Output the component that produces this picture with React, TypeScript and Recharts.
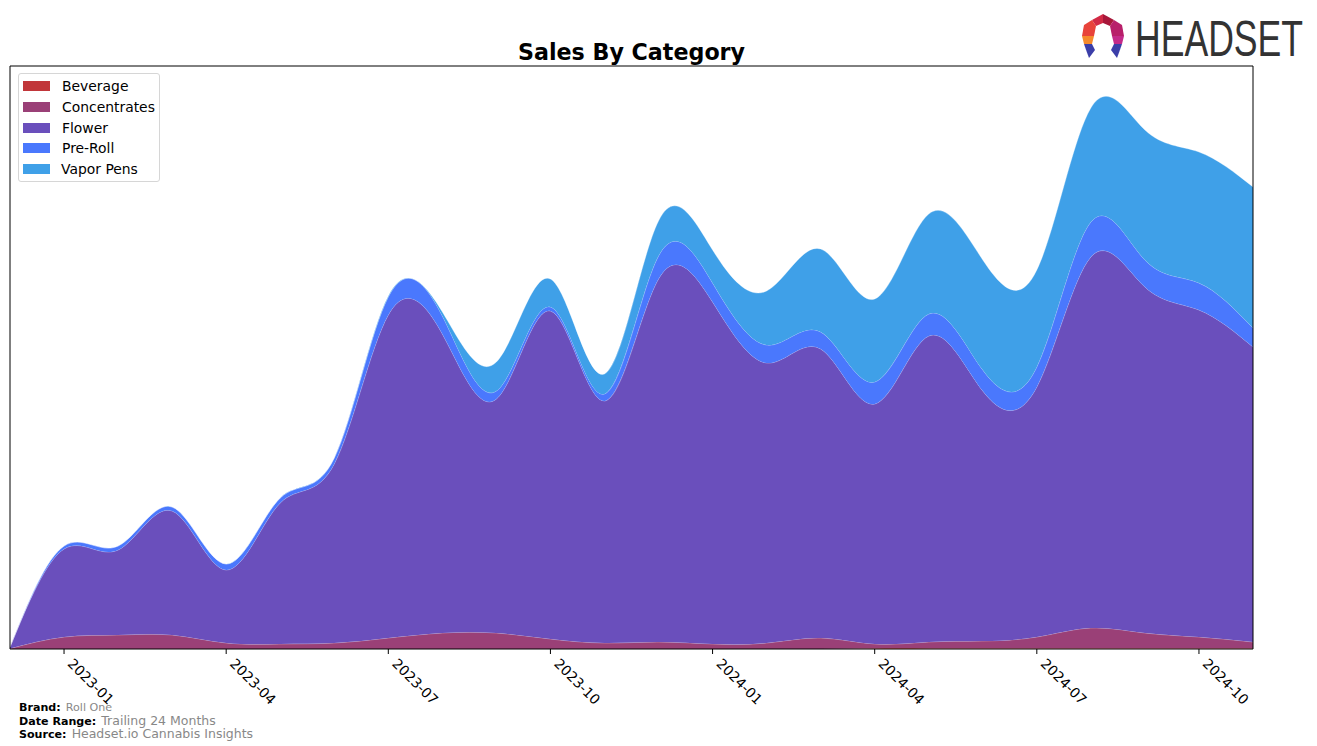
import React from "react";
import { AreaChart, Area, XAxis, YAxis, ReferenceArea } from "recharts";

const months = [
  "2022-12", "2023-01", "2023-02", "2023-03", "2023-04", "2023-05", "2023-06",
  "2023-07", "2023-08", "2023-09", "2023-10", "2023-11", "2023-12",
  "2024-01", "2024-02", "2024-03", "2024-04", "2024-05", "2024-06",
  "2024-07", "2024-08", "2024-09", "2024-10", "2024-11",
];
const beverage = [0, 0, 0, 0, 0, 0, 0, 0, 0, 0, 0, 0, 0, 0, 0, 0, 0.8, 0.8, 0.8, 0.8, 0.8, 0.8, 0.8, 0.8];
const concentrates = [0.5, 12, 14, 14, 6, 5, 6, 11, 16, 16, 10, 6, 7, 5, 6, 11, 4.2, 6.2, 7.2, 11.2, 20.2, 15.2, 11.2, 6.2];
const flower = [1.5, 88, 85, 124, 73, 141, 179, 323, 299, 234, 328, 242, 363, 342, 280, 289, 240, 306, 250, 250, 371, 346, 327, 295];
const preRoll = [0, 3, 4, 4, 6, 5, 6, 18, 18, 8, 4, 7, 23, 19, 18, 17, 22, 22, 21, 20, 35, 27, 27, 19];
const vaporPens = [0, 0, 0, 0, 0, 0, 0, 1, 4, 29, 28, 20, 35, 33, 54, 83, 83, 100, 110, 97, 114, 130, 131, 141];
const tickIndices = [1, 4, 7, 10, 13, 16, 19, 22];
const yMax = 583;

const series = [
  { key: "Beverage", values: beverage, color: "#c1363a" },
  { key: "Concentrates", values: concentrates, color: "#9a4077" },
  { key: "Flower", values: flower, color: "#6a4fbc" },
  { key: "Pre-Roll", values: preRoll, color: "#4a78fd" },
  { key: "Vapor Pens", values: vaporPens, color: "#3fa0e8" },
];

const data = months.map((m, i) => {
  const row: any = { t: i, month: m };
  series.forEach((s) => (row[s.key] = s.values[i]));
  return row;
});

const FONT = "'DejaVu Sans', sans-serif";

const Tick = (props: any) => {
  const { x, y, payload } = props;
  return (
    <g transform={`translate(${x},${y})`}>
      <text
        x={0}
        y={0}
        transform="rotate(45) translate(8,4)"
        textAnchor="start"
        fontSize={13.9}
        fontFamily={FONT}
        fill="#000"
      >
        {months[payload.value]}
      </text>
    </g>
  );
};

const Logo = () => (
  <svg width={245} height={60} style={{ position: "absolute", left: 1072, top: 6 }}>
    <g transform="translate(8,8)">
      <polygon points="23,0 34,6 30,12 23,9" fill="#a8173a" />
      <polygon points="23,0 12,6 16,12 23,9" fill="#d22a45" />
      <polygon points="12,6 16,12 14,22 2,22 4,11" fill="#e8433a" />
      <polygon points="2,22 14,22 12,30 4,30" fill="#f58a2c" />
      <polygon points="34,6 30,12 32,22 44,22 42,11" fill="#b81f6a" />
      <polygon points="44,22 32,22 34,30 42,30" fill="#c42a8a" />
      <polygon points="4,30 12,30 15,36 9,44" fill="#3b3ea8" />
      <polygon points="4,30 9,44 6,36" fill="#5a5ad0" />
      <polygon points="42,30 34,30 31,36 37,44" fill="#3b3ea8" />
      <polygon points="42,30 37,44 40,36" fill="#5a5ad0" />
    </g>
    <g transform="translate(63,50) scale(0.712,1)">
      <text
        x={0}
        y={0}
        fontSize={50}
        fontFamily="'Liberation Sans', sans-serif"
        fill="#333333"
        textLength={236}
        lengthAdjust="spacingAndGlyphs"
      >
        HEADSET
      </text>
    </g>
  </svg>
);

const Legend = () => (
  <div
    style={{
      position: "absolute",
      left: 18,
      top: 73,
      width: 142,
      height: 109,
      border: "1px solid #d6d6d6",
      borderRadius: 3,
      background: "rgba(255,255,255,0.8)",
      boxSizing: "border-box",
      fontFamily: FONT,
      fontSize: 13.9,
    }}
  >
    {series.map((s, i) => (
      <div
        key={s.key}
        style={{ position: "absolute", left: 4, top: 4 + i * 20.8, height: 16, display: "flex", alignItems: "center" }}
      >
        <div style={{ width: 27, height: 10, background: s.color }} />
        <div style={{ marginLeft: s.key === "Vapor Pens" ? 11 : 12, lineHeight: "16px", color: "#000" }}>{s.key}</div>
      </div>
    ))}
  </div>
);

const Footer = () => (
  <div style={{ position: "absolute", left: 19, top: 700, fontFamily: FONT, lineHeight: "11.5px" }}>
    <div style={{ whiteSpace: "nowrap" }}>
      <span style={{ fontWeight: "bold", fontSize: 11.1 }}>Brand:</span>{" "}
      <span style={{ fontSize: 11.1, color: "#888" }}>Roll One</span>
    </div>
    <div style={{ whiteSpace: "nowrap" }}>
      <span style={{ fontWeight: "bold", fontSize: 11.1 }}>Date Range:</span>{" "}
      <span style={{ fontSize: 12.5, color: "#888" }}>Trailing 24 Months</span>
    </div>
    <div style={{ whiteSpace: "nowrap" }}>
      <span style={{ fontWeight: "bold", fontSize: 11.1 }}>Source:</span>{" "}
      <span style={{ fontSize: 12.5, color: "#888" }}>Headset.io Cannabis Insights</span>
    </div>
  </div>
);

export default function App() {
  return (
    <div style={{ position: "absolute", left: 0, top: 0, width: 1317, height: 746, background: "#fff" }}>
      <div
        style={{
          position: "absolute",
          left: 0,
          width: 1263,
          top: 37,
          textAlign: "center",
          fontFamily: FONT,
          fontWeight: "bold",
          fontSize: 22.2,
          lineHeight: "30px",
        }}
      >
        Sales By Category
      </div>
      <AreaChart
        width={1317}
        height={746}
        data={data}
        margin={{ top: 66, right: 64, left: 10, bottom: 37 }}
      >
        <XAxis
          dataKey="t"
          type="number"
          domain={[0, 23]}
          ticks={tickIndices}
          tick={<Tick />}
          tickLine={{ stroke: "#000" }}
          tickSize={5}
          axisLine={false}
          height={60}
          interval={0}
          allowDataOverflow
        />
        <YAxis hide domain={[0, yMax]} type="number" allowDataOverflow />
        {series.map((s) => (
          <Area
            key={s.key}
            type="natural"
            dataKey={s.key}
            stackId="1"
            fill={s.color}
            fillOpacity={1}
            stroke="rgba(255,255,255,0.3)"
            strokeWidth={1}
            dot={false}
            activeDot={false}
            isAnimationActive={false}
          />
        ))}
        <ReferenceArea
          x1={0}
          x2={23}
          y1={0}
          y2={yMax}
          fill="none"
          fillOpacity={0}
          stroke="#000"
          strokeWidth={1}
          ifOverflow="visible"
        />
      </AreaChart>
      <Legend />
      <Logo />
      <Footer />
    </div>
  );
}
